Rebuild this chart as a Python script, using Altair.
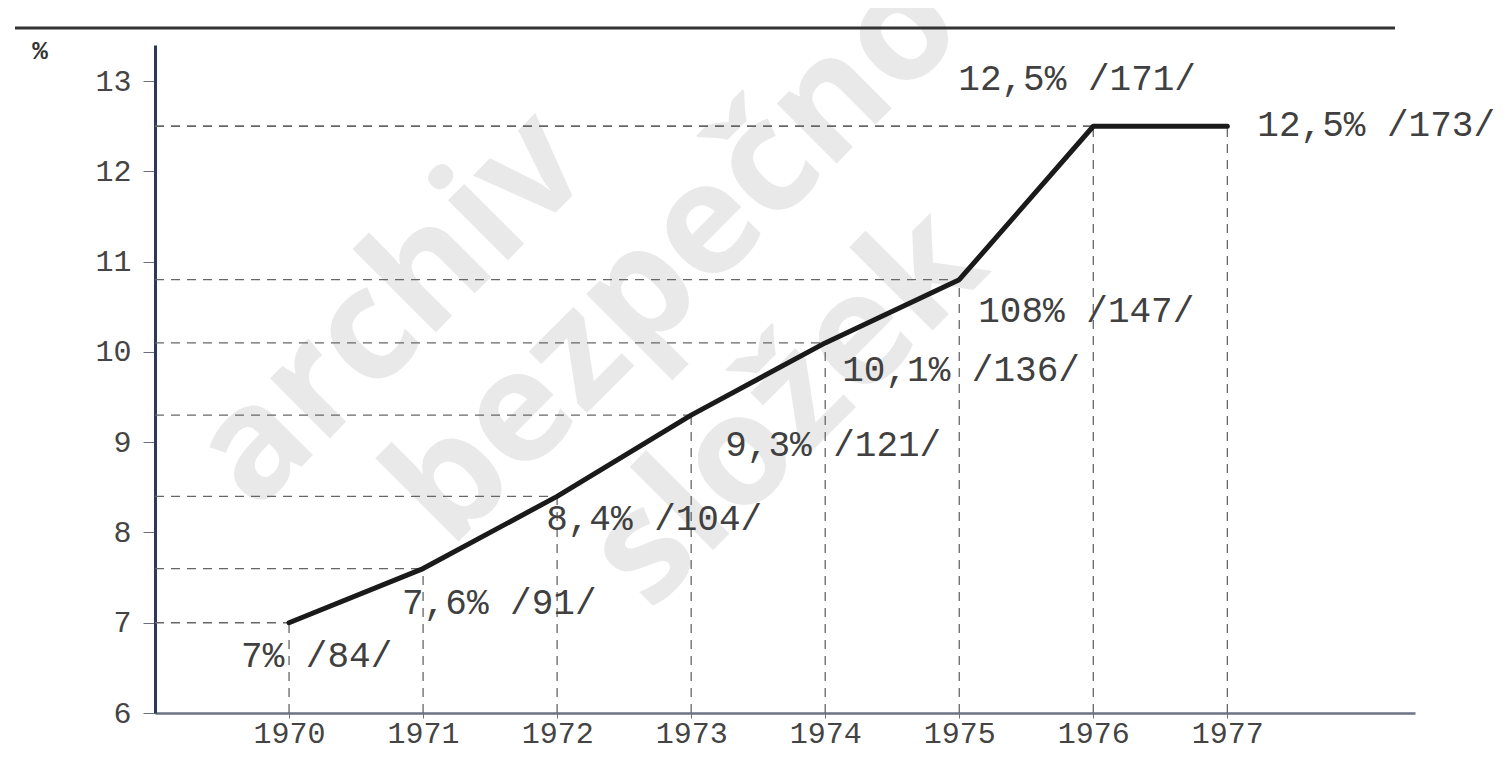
import altair as alt
import pandas as pd

years = [1970, 1971, 1972, 1973, 1974, 1975, 1976, 1977]
values = [7.0, 7.6, 8.4, 9.3, 10.1, 10.8, 12.5, 12.5]
labels = ["7% /84/", "7,6% /91/", "8,4% /104/", "9,3% /121/",
          "10,1% /136/", "108% /147/", "12,5% /171/", "12,5% /173/"]
y_ticks = [6, 7, 8, 9, 10, 11, 12, 13]
watermark = ["archiv", "bezpečno", "složek"]

df = pd.DataFrame({"year": years, "value": values, "label": labels})
df["base"] = 6
df["start"] = 1969

W, H = 1260, 668
MONO = "Liberation Mono"

xs = alt.Scale(domain=[1969, 1978.4], nice=False, zero=False)
ys = alt.Scale(domain=[6, 13.4], nice=False, zero=False)

base = alt.Chart(df)

# watermark (decorative, pixel space)
wm_pos = [(100, 468), (295, 505), (495, 568)]
wm_layers = []
for word, (px, py) in zip(watermark, wm_pos):
    wm_layers.append(
        alt.Chart(pd.DataFrame({"t": [word]})).mark_text(
            font="Open Sans", fontWeight="bold", fontSize=155, angle=315,
            align="left", baseline="alphabetic", color="#e9e9e9"
        ).encode(x=alt.value(px), y=alt.value(py), text="t:N")
    )

hdash = base.mark_rule(strokeDash=[9, 7], color="#666666", strokeWidth=1.3).encode(
    x=alt.X("start:Q", scale=xs,
            axis=alt.Axis(values=years, format="d", title=None, grid=False,
                          labelFont=MONO, labelFontSize=30, labelColor="#444444",
                          labelPadding=0, tickSize=5, tickColor="#6a7080",
                          domainColor="#6a7283", domainWidth=2.5)),
    x2="year:Q",
    y=alt.Y("value:Q", scale=ys,
            axis=alt.Axis(values=y_ticks, format="d", title=None, grid=False,
                          labelFont=MONO, labelFontSize=30, labelColor="#444444",
                          labelPadding=12, tickSize=12,
                          tickColor="#6a7080", domainColor="#2e3a55",
                          domainWidth=3)),
)
vdash = base.mark_rule(strokeDash=[9, 7], color="#666666", strokeWidth=1.3).encode(
    x=alt.X("year:Q", scale=xs), y=alt.Y("base:Q", scale=ys), y2="value:Q"
)
line = base.mark_line(color="#1a1a1a", strokeWidth=5, strokeCap="round",
                      strokeJoin="round").encode(
    x=alt.X("year:Q", scale=xs), y=alt.Y("value:Q", scale=ys)
)

offsets = [(-48, 33), (-21, 34), (-11, 23), (34, 30), (17, 27), (19, 31), (-135, -47), (30, -1)]
lab_layers = []
for i, (dx, dy) in enumerate(offsets):
    lab_layers.append(
        alt.Chart(df.iloc[[i]]).mark_text(
            font=MONO, fontSize=36, color="#404040", align="left",
            baseline="middle", dx=dx, dy=dy
        ).encode(x=alt.X("year:Q", scale=xs), y=alt.Y("value:Q", scale=ys), text="label:N")
    )

top_rule = alt.Chart(pd.DataFrame({"a": [0]})).mark_rule(
    color="#333333", strokeWidth=3
).encode(x=alt.value(-140), x2=alt.value(1240), y=alt.value(-17))
pct = alt.Chart(pd.DataFrame({"t": ["%"]})).mark_text(
    font=MONO, fontSize=26, fontWeight="bold", color="#333333"
).encode(x=alt.value(-115), y=alt.value(6), text="t:N")

chart = alt.layer(*wm_layers, hdash, vdash, line, *lab_layers, top_rule, pct).properties(
    width=W, height=H,
    autosize=alt.AutoSizeParams(type="none"),
    padding={"left": 147, "top": 37, "right": 83, "bottom": 39},
    background="white",
).configure_view(stroke=None)

chart.save("out.html", embed_options={"renderer": "svg", "actions": False})
